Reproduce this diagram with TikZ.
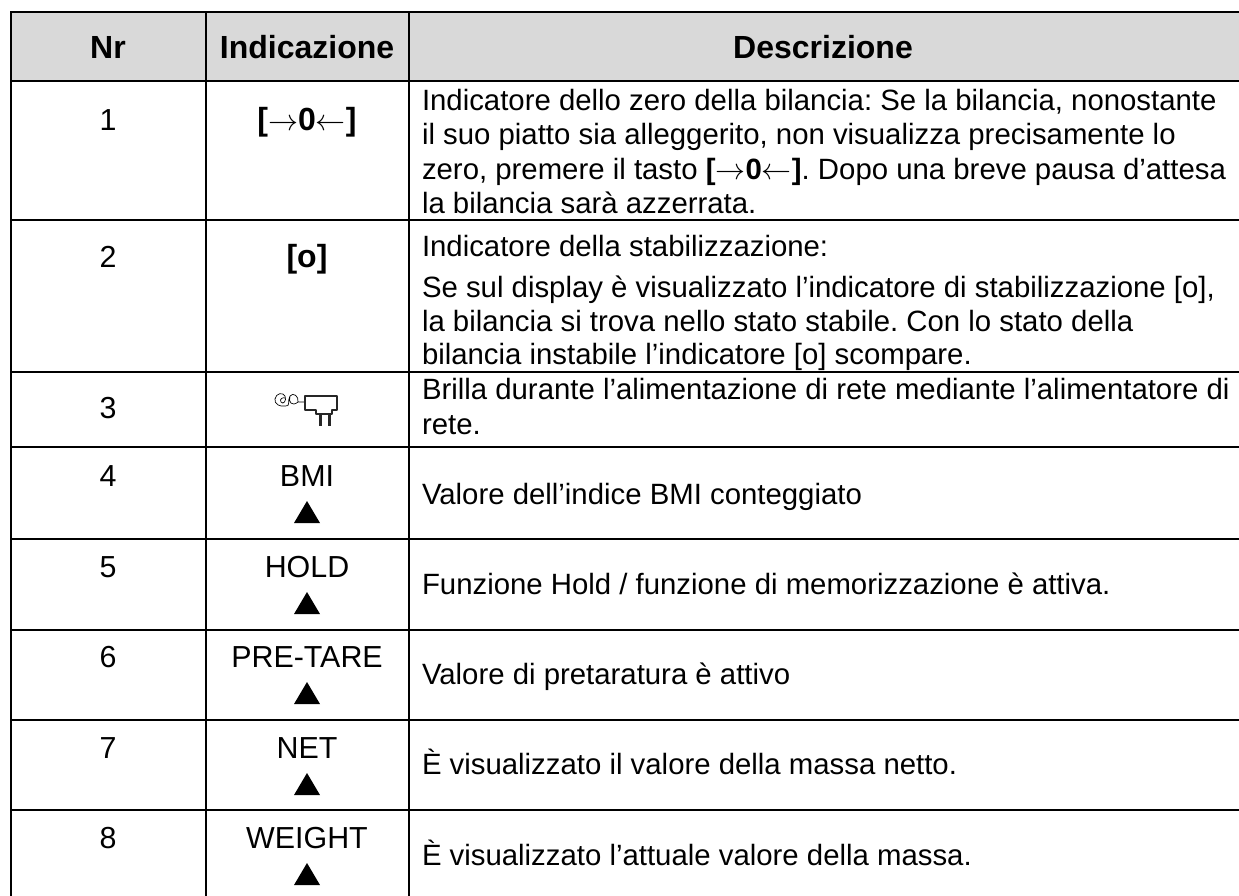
\documentclass[tikz,border=0pt]{standalone}
\usepackage{fontspec}
\setmainfont{Liberation Sans}
\tikzset{x=1pt,y=-1pt,
 rule/.style={line width=2.2pt,line cap=rect},
 txt/.style={anchor=base west,inner sep=0pt,outer sep=0pt,font=\fontsize{29.35}{34}\selectfont},
 mid/.style={anchor=base,inner sep=0pt,outer sep=0pt,font=\fontsize{30.4}{34}\selectfont},
 head/.style={anchor=base,inner sep=0pt,outer sep=0pt,font=\fontsize{32}{34}\selectfont\bfseries},
 plug/.style={draw=black!85,line join=round}}
\newcommand{\arr}[1]{{\fontsize{10}{12}\selectfont\scalebox{3}{$#1$}}}
\newcommand{\zs}{[\arr{\rightarrow}0\arr{\leftarrow}]}
\frenchspacing
\begin{document}
\begin{tikzpicture}
\useasboundingbox (0,0) rectangle (1239,895);
\fill[white] (0,0) rectangle (1239,895);
\fill[black!15] (11,12) rectangle (1239,81);
\draw[rule] (11,12) -- (1239,12);
\foreach \y in {81,220,372,447,539,630,720,810} \draw[rule] (11,\y) -- (1239,\y);
\foreach \x in {11,206,409} \draw[rule] (\x,12) -- (\x,895);
% header
\node[head] (h1) at (108,58) {Nr};
\node[head] (h2) at (307,58) {Indicazione};
\node[head] (h3) at (823,58) {Descrizione};
% col 1
\foreach \n/\y in {1/130,2/267,3/418,4/486,5/577,6/667,7/758,8/848}
  \node[mid] (n\n) at (108,\y) {\n};
% col 2
\node[head] (z1) at (307,130) {\zs};
\node[head] (o1) at (307,267) {[o]};
\foreach \t/\y/\m in {BMI/486/a,HOLD/577/b,PRE-TARE/667/c,NET/758/d,WEIGHT/848/e}{
  \node[mid] (l\m) at (307,\y) {\t};
  \fill (307,\y+15) -- (320,\y+37) -- (294,\y+37) -- cycle;
}
% icon
\draw[line width=.7pt,line join=round] (305,402) -- (298,402)
  .. controls (299,396) and (293,392) .. (290,396) .. controls (287,401) and (291,407) .. (285,406)
  .. controls (280,407) and (274,404) .. (275,399) .. controls (276,393) and (283,392) .. (285,396)
  .. controls (287,401) and (283,405) .. (281,402) .. controls (279,399) and (283,397) .. (285,398)
  (290,396) .. controls (288,402) and (292,407) .. (298,402);
\draw[plug,line width=2pt] (304.5,396) -- (337,396) -- (337,409.5) -- (332,409.5) -- (332,414) -- (316,414) -- (316,409.5) -- (304.5,409.5) -- cycle;
\draw[plug,line width=3pt] (320.5,414) -- (320.5,426) (329,414) -- (329,426);
% description
\node[txt] (d1a) at (422,110) {Indicatore dello zero della bilancia: Se la bilancia, nonostante};
\node[txt] (d1b) at (422,144.5) {il suo piatto sia alleggerito, non visualizza precisamente lo};
\node[txt] (d1c) at (422,179) {zero, premere il tasto \textbf{\zs}. Dopo una breve pausa d’attesa};
\node[txt] (d1d) at (422,213) {la bilancia sarà azzerrata.};
\node[txt] (d2a) at (422,256) {Indicatore della stabilizzazione:};
\node[txt] (d2b) at (422,297) {Se sul display è visualizzato l’indicatore di stabilizzazione [o],};
\node[txt] (d2c) at (422,331) {la bilancia si trova nello stato stabile. Con lo stato della};
\node[txt] (d2d) at (422,364) {bilancia instabile l’indicatore [o] scompare.};
\node[txt] (d3a) at (422,399.5) {Brilla durante l’alimentazione di rete mediante l’alimentatore di};
\node[txt] (d3b) at (422,434) {rete.};
\node[txt] (d4) at (422,504) {Valore dell’indice BMI conteggiato};
\node[txt] (d5) at (422,594) {Funzione Hold / funzione di memorizzazione è attiva.};
\node[txt] (d6) at (422,684) {Valore di pretaratura è attivo};
\node[txt] (d7) at (422,774) {È visualizzato il valore della massa netto.};
\node[txt] (d8) at (422,865) {È visualizzato l’attuale valore della massa.};
\end{tikzpicture}
\end{document}
